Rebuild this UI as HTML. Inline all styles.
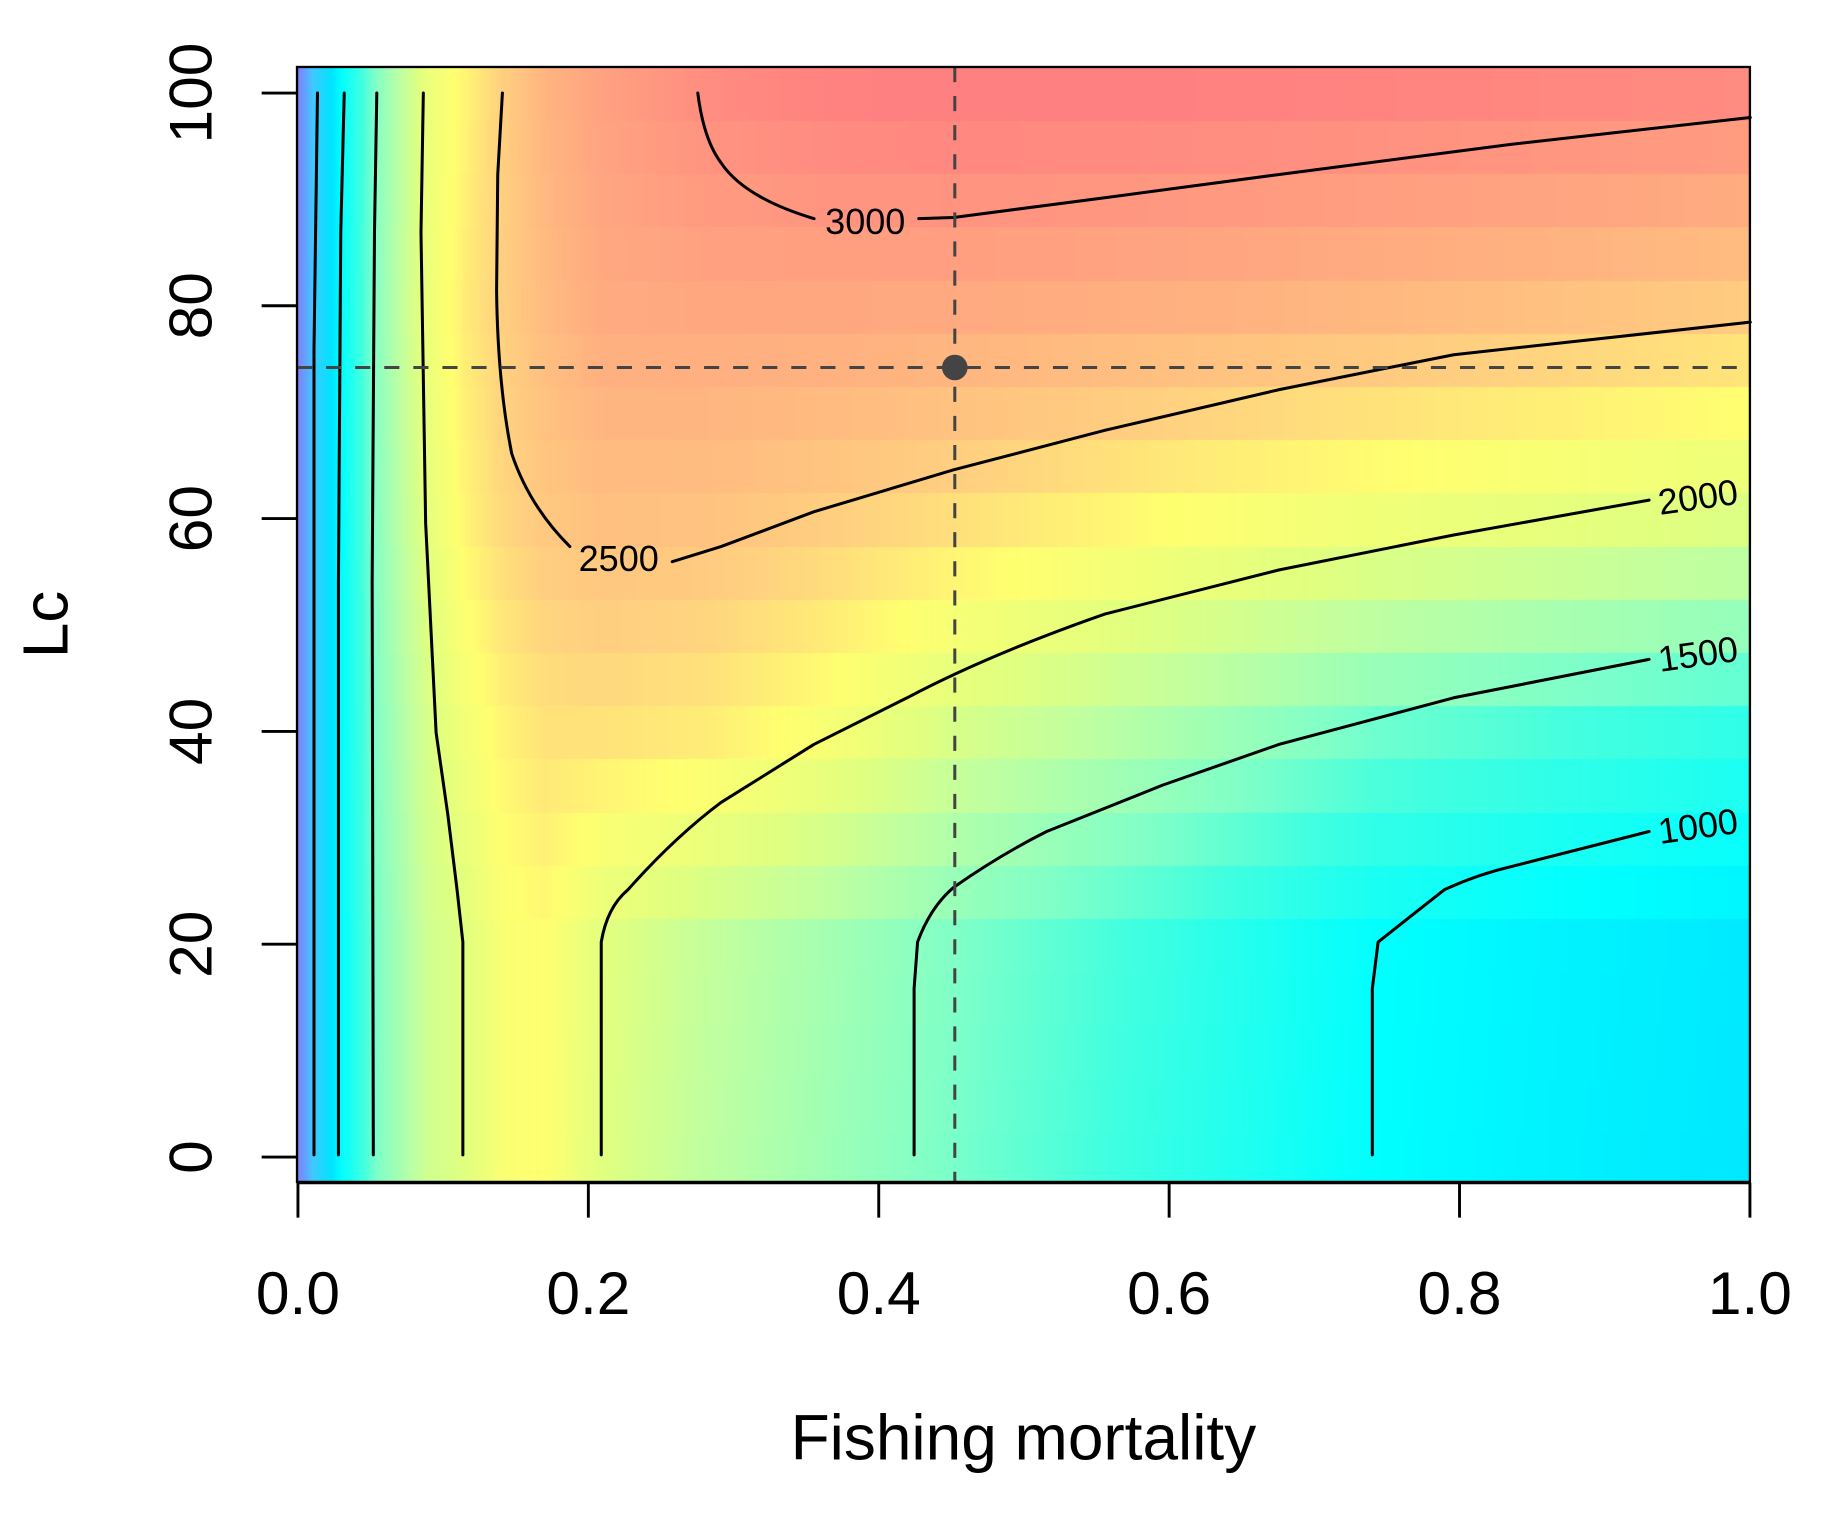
<!DOCTYPE html>
<html><head><meta charset="utf-8"><style>
html,body{margin:0;padding:0;background:#fff;width:1824px;height:1515px;overflow:hidden}
#c{position:absolute;left:297px;top:67px}
svg{position:absolute;left:0;top:0}
text{font-family:"Liberation Sans",sans-serif;fill:#000}
</style></head><body>
<canvas id="c" width="1453" height="1115"></canvas>
<svg width="1824" height="1515" viewBox="0 0 1568.4 1302.7">
<g fill="none" stroke="#000" stroke-width="2.6" stroke-linejoin="round" stroke-linecap="round">
<polyline points="270,993 270,300 273,80"/>
<polyline points="291,993 291,500 293,200 296,80"/>
<polyline points="321,993 320,500 322,200 324,80"/>
<polyline points="398,993 398,810 393,765 385,700 375,630 366,450 362,200 364,80"/>
<path d="M432,80 L428,150 L427,250 Q428,330 440,390 Q455,435 490,470"/>
<path d="M578,483 L620,470 L700,440 L820,404 L950,370 L1100,335 L1250,305 L1505,277"/>
<path d="M600,80 Q605,120 620,140 Q640,170 700,188"/>
<polyline points="790,188 820,187 950,170 1100,150 1300,124 1505,101"/>
<path d="M517,993 L517,810 Q522,780 540,765 Q580,720 620,690 L700,640 L780,600 Q850,563 950,528 L1100,490 L1250,460 L1418,430"/>
<path d="M786,993 L786,850 L789,810 Q800,780 820,763 Q860,735 900,715 L1000,675 L1100,640 L1250,600 L1418,567"/>
<path d="M1180,993 L1180,850 L1185,810 L1242,765 Q1270,752 1300,745 L1418,715"/>
</g>
<g font-size="31">
<text x="744" y="201" text-anchor="middle">3000</text>
<text x="532" y="491" text-anchor="middle">2500</text>
<text x="1460" y="438" text-anchor="middle" transform="rotate(-8 1460 427)">2000</text>
<text x="1460" y="573" text-anchor="middle" transform="rotate(-8 1460 562)">1500</text>
<text x="1460" y="721" text-anchor="middle" transform="rotate(-8 1460 710)">1000</text>
</g>
<g stroke="#444" stroke-width="2.6" stroke-dasharray="13,12" fill="none">
<line x1="821" y1="57.6" x2="821" y2="1016.3"/>
<line x1="255.4" y1="316" x2="1504.7" y2="316"/>
</g>
<circle cx="821" cy="316" r="11" fill="#444"/>
<rect x="255.4" y="57.6" width="1249.3" height="958.7" fill="none" stroke="#000" stroke-width="2"/>
<g stroke="#000" stroke-width="2.5">
<line x1="256.2" y1="1017" x2="1504.7" y2="1017"/>
<line x1="256.2" y1="1017" x2="256.2" y2="1047"/>
<line x1="505.9" y1="1017" x2="505.9" y2="1047"/>
<line x1="755.6" y1="1017" x2="755.6" y2="1047"/>
<line x1="1005.3" y1="1017" x2="1005.3" y2="1047"/>
<line x1="1255" y1="1017" x2="1255" y2="1047"/>
<line x1="1504.7" y1="1017" x2="1504.7" y2="1047"/>
<line x1="225" y1="994.9" x2="255" y2="994.9"/>
<line x1="225" y1="811.9" x2="255" y2="811.9"/>
<line x1="225" y1="628.9" x2="255" y2="628.9"/>
<line x1="225" y1="445.9" x2="255" y2="445.9"/>
<line x1="225" y1="262.9" x2="255" y2="262.9"/>
<line x1="225" y1="80" x2="255" y2="80"/>
</g>
<g font-size="52" text-anchor="middle">
<text x="256.2" y="1130">0.0</text>
<text x="505.9" y="1130">0.2</text>
<text x="755.6" y="1130">0.4</text>
<text x="1005.3" y="1130">0.6</text>
<text x="1255" y="1130">0.8</text>
<text x="1504.7" y="1130">1.0</text>
<text transform="translate(182,994.9) rotate(-90)">0</text>
<text transform="translate(182,811.9) rotate(-90)">20</text>
<text transform="translate(182,628.9) rotate(-90)">40</text>
<text transform="translate(182,445.9) rotate(-90)">60</text>
<text transform="translate(182,262.9) rotate(-90)">80</text>
<text transform="translate(182,80) rotate(-90)">100</text>
<text x="880" y="1255" font-size="55">Fishing mortality</text>
<text transform="translate(58,537) rotate(-90)" font-size="55">Lc</text>
</g>
</svg>
<script>
var Fs=[0,0.013,0.03,0.055,0.09,0.115,0.14,0.17,0.21,0.28,0.36,0.45,0.6,0.74,0.87,1.0];
var Ls=[0,20,40,60,80,100];
var T=[
[0,500,1000,1500,1900,2000,2200,2250,2000,1800,1650,1480,1230,1000,900,830],
[0,500,1000,1500,1900,2000,2200,2250,2020,1830,1680,1510,1260,1010,910,840],
[0,500,1000,1530,1950,2150,2300,2400,2400,2350,2200,1950,1700,1450,1320,1220],
[0,500,1000,1560,2050,2300,2450,2550,2620,2600,2520,2420,2250,2130,2050,1970],
[0,500,1000,1560,2120,2350,2500,2650,2780,2800,2800,2790,2740,2680,2610,2530],
[0,500,1000,1540,2100,2300,2500,2700,2850,3000,3080,3120,3100,3070,3040,3010]];
var cs=[[0,[128,128,255]],[400,[64,200,255]],[800,[0,228,255]],[1000,[0,255,255]],[1300,[64,255,224]],[1500,[128,255,200]],[1800,[192,255,160]],[2000,[224,255,128]],[2250,[255,255,112]],[2500,[255,208,128]],[2800,[255,168,128]],[3100,[255,128,128]]];
function col(v){if(v<=0)return cs[0][1];for(var i=1;i<cs.length;i++){if(v<=cs[i][0]){var a=cs[i-1],b=cs[i],t=(v-a[0])/(b[0]-a[0]);return [0,1,2].map(function(k){return Math.round(a[1][k]+(b[1][k]-a[1][k])*t)});}}return cs[cs.length-1][1];}
function idx(arr,v){for(var i=0;i<arr.length-2;i++){if(v<arr[i+1])return i;}return arr.length-2;}
function Y(F,L){F=Math.max(0,Math.min(1,F));L=Math.max(0,Math.min(100,L));var i=idx(Fs,F),j=idx(Ls,L);var tf=(F-Fs[i])/(Fs[i+1]-Fs[i]),tl=(L-Ls[j])/(Ls[j+1]-Ls[j]);
var a=T[j][i]*(1-tf)+T[j][i+1]*tf,b=T[j+1][i]*(1-tf)+T[j+1][i+1]*tf;return a*(1-tl)+b*tl;}
var c=document.getElementById('c'),g=c.getContext('2d');
var W=1453,H=1115;
for(var r=0;r<=20;r++){var Lc=r*5;var yTop=1157-(Lc+2.5)*10.64-67,yBot=1157-(Lc-2.5)*10.64-67;
 for(var px=0;px<W;px+=3){var F=(px+1.5+297-298)/1452;var cc=col(Y(F,Lc));g.fillStyle='rgb('+cc.join(',')+')';g.fillRect(px,Math.floor(yTop),3,Math.ceil(yBot-yTop)+1);}}
</script>
</body></html>
